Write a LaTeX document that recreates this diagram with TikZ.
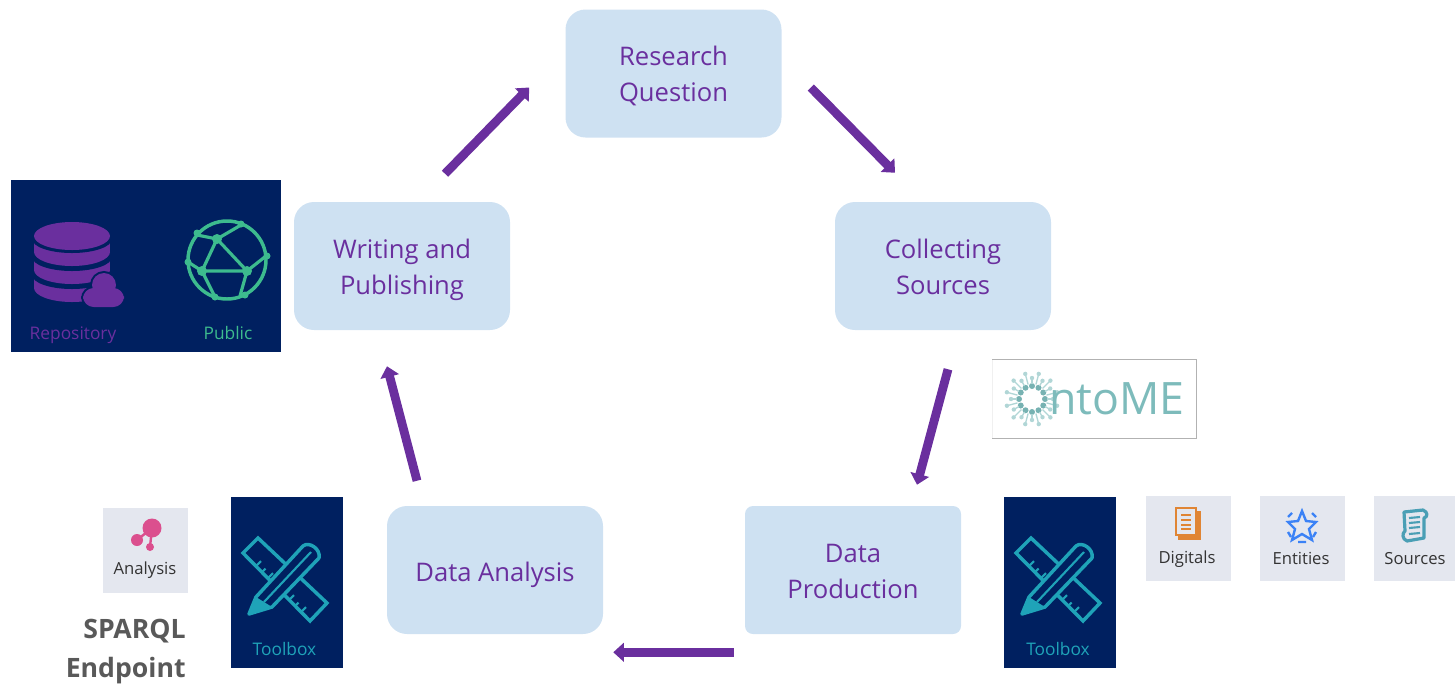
\documentclass[tikz,border=0pt]{standalone}
\usepackage{fontspec}
\setmainfont{Open Sans}
\usepackage{xcolor}
\usetikzlibrary{arrows.meta}

\definecolor{boxblue}{HTML}{CEE1F2}
\definecolor{flowpurple}{HTML}{6A2F9E}
\definecolor{panelnavy}{HTML}{002060}
\definecolor{toolteal}{HTML}{1FA3B8}
\definecolor{pubgreen}{HTML}{3DBB8E}
\definecolor{tilegrey}{HTML}{E4E7EF}
\definecolor{ontoteal}{HTML}{7DBBBB}
\definecolor{analysispink}{HTML}{DB4F8E}
\definecolor{digitalorange}{HTML}{E08534}
\definecolor{entityblue}{HTML}{3B82F6}
\definecolor{scrollteal}{HTML}{4A9FB5}

\newcommand{\twolines}[2]{\rule{0pt}{21.15pt}#1\\#2\rule[-6pt]{0pt}{6pt}}

\tikzset{
	stagebox/.style={shape=rectangle,fill=boxblue,rounded corners=15pt,minimum width=162pt,minimum height=96pt,
		align=center,text=flowpurple,font=\fontsize{19.2}{27}\selectfont,inner sep=0pt},
	flow/.style={draw=flowpurple,line width=6.6pt,-{Triangle[length=8pt,width=14pt]}},
	panel/.style={shape=rectangle,fill=panelnavy,inner sep=0pt},
	tile/.style={shape=rectangle,fill=tilegrey,minimum size=63.75pt,inner sep=0pt},
	tiletext/.style={text=black!80,font=\fontsize{12.5}{15}\selectfont,inner sep=0pt},
	paneltext/.style={font=\fontsize{13}{15}\selectfont,inner sep=0pt},
	toolbox/.pic={
		\draw[toolteal,line width=2.6pt,line join=miter] (27,41) -- (12,56) -- (79,124) -- (96,106) -- cycle;
		\foreach \tx/\ty/\tl in {25/69/7, 31/75/5, 37/81/7, 58/103/7, 64/109/5, 70/115/7}
			\draw[toolteal,line width=1.6pt] (\tx,\ty) -- ++(0.7*\tl,-0.7*\tl);
		\draw[toolteal,line width=2.6pt,fill=panelnavy,line join=round]
			(18,117) -- (25,100) -- (72,49) .. controls (78,44) and (90,52) .. (88,61) -- (41,110) -- cycle;
		\draw[toolteal,line width=1.6pt] (33,105) -- (80,55);
		\fill[toolteal] (18,117) -- (25,100) -- (41,110) -- cycle;
	}
}

\begin{document}
\begin{tikzpicture}[x=0.75pt,y=-0.75pt]
	\useasboundingbox (0,0) rectangle (1455,683);

	% cycle
	\node[stagebox] (question)   at (673.5,73.5) {\twolines{Research}{Question}};
	\node[stagebox] (sources)    at (943,266)    {\twolines{Collecting}{Sources}};
	\node[stagebox] (writing)    at (402,266)    {\twolines{Writing and}{Publishing}};
	\node[stagebox] (analysis)   at (495,570)    {\rule{0pt}{22pt}Data Analysis};
	\node[stagebox,rounded corners=6pt] (production) at (853,570) {\twolines{Data}{Production}};

	\draw[flow] ([shift={(29,14)}]question.east)      -- ([shift={(-48,-29)}]sources.north);
	\draw[flow] ([shift={(5,39)}]sources.south)       -- ([shift={(64,-21)}]production.north);
	\draw[flow] ([shift={(-11,18)}]production.south west) -- ([shift={(10,18)}]analysis.south east);
	\draw[flow] ([shift={(-78,-25)}]analysis.north)   -- ([shift={(-15,36)}]writing.south);
	\draw[flow] ([shift={(43,-28)}]writing.north)     -- ([shift={(-36,14)}]question.west);

	% repository panel
	\node[panel,minimum width=202.5pt,minimum height=129pt] (repo) at (146,266) {};
	\foreach \by in {288,270,252} {
		\fill[flowpurple] (34,\by-13) rectangle (110,\by);
		\fill[flowpurple] (72,\by) ellipse[x radius=38,y radius=14];
		\fill[panelnavy] (72,\by-13) ellipse[x radius=40,y radius=14];
	}
	\fill[flowpurple] (72,236) ellipse[x radius=38,y radius=14];
	\draw[panelnavy,fill=panelnavy,line width=3pt,rounded corners=8pt] (83,288) rectangle (124,307);
	\draw[panelnavy,fill=panelnavy,line width=3pt] (104,285) circle (12);
	\fill[flowpurple,rounded corners=8pt] (83,288) rectangle (124,307);
	\fill[flowpurple] (104,285) circle (12);
	\node[paneltext,text=flowpurple] (repolabel) at (73,335) {Repository};

	\draw[pubgreen,line width=2.6pt] (227,260) circle (39);
	\draw[pubgreen,line width=2.4pt,line join=round]
		(217,239) -- (202,271) -- (247,271) -- cycle
		(217,239) -- (241,225) (217,239) -- (197,235)
		(202,271) -- (188,262) (202,271) -- (215,297)
		(247,271) -- (266,256) (247,271) -- (240,296);
	\foreach \gx/\gy in {217/239,202/271,247/271}
		\fill[pubgreen] (\gx,\gy) circle (5);
	\foreach \gx/\gy in {241/224,197/233,188/262,267/256,215/297,245/295}
		\fill[pubgreen] (\gx,\gy) circle (3.5);
	\node[paneltext,text=pubgreen] (publabel) at (228,333) {Public};

	% ontome logo
	\draw[black!6] (992,359) -- (992,438);
	\draw[black!30] (992,359) -- (1196,359) -- (1196,438) -- (992,438);
	\foreach \ang in {0,30,...,330} {
		\fill[ontoteal!95!black] (1032,399) ++(\ang:13) circle (3);
		\draw[ontoteal!60,line width=1pt] (1032,399) ++(\ang+15:15) -- ++(\ang+15:10);
		\draw[ontoteal!60,line width=1pt] (1032,399) ++(\ang:15) -- ++(\ang:5);
		\fill[ontoteal!60] (1032,399) ++(\ang+15:26) circle (2.2);
		\fill[ontoteal!60] (1032,399) ++(\ang:21) circle (2.2);
	}
	\node[inner sep=0pt,text=ontoteal,font=\fontsize{33.5}{33}\selectfont,anchor=base west] (ontome) at (1049,414) {ntoME};

	% right toolbox and tiles
	\node[panel,minimum width=84pt,minimum height=128.25pt] (toolright) at (1060,582.5) {};
	\pic at (1004,497) {toolbox};
	\node[paneltext,text=toolteal] (toolrightlabel) at (1058,649) {Toolbox};

	\node[tile] (digitals) at (1188.5,538.5) {};
	\fill[digitalorange] (1178,511) rectangle (1201,540);
	\draw[digitalorange,line width=2pt,fill=tilegrey] (1176,508) rectangle (1196,535);
	\foreach \ly in {515,520,525,529}
		\draw[digitalorange,line width=1.4pt] (1181,\ly) -- (1191,\ly);
	\node[tiletext] (digitalslabel) at (1187,559) {Digitals};

	\node[tile] (entities) at (1302.5,538.5) {};
	\draw[entityblue,line width=1.8pt,line join=miter]
		(1302,511) -- (1306,521) -- (1316,522) -- (1309,529) -- (1312,540) -- (1302,534) -- (1292,540) -- (1295,529) -- (1288,522) -- (1298,521) -- cycle;
	\draw[entityblue,line width=1.8pt]
		(1288,517) -- (1292,513) (1316,517) -- (1312,513) (1288,532) -- (1291,537) (1316,532) -- (1313,537) (1298,542) -- (1306,542);
	\node[tiletext] (entitieslabel) at (1301,558) {Entities};

	\node[tile,minimum size=0pt,minimum width=60.75pt,minimum height=63.75pt] (scrolls) at (1414.5,538.5) {};
	\draw[scrollteal,line width=2.4pt,line join=round]
		(1404,512) -- (1423,510) .. controls (1428,512) and (1428,517) .. (1424,518) -- (1424,538) -- (1407,541) .. controls (1402,539) and (1402,533) .. (1405,531) -- cycle;
	\foreach \ly in {518,523,528,534}
		\draw[scrollteal,line width=1.6pt] (1409,\ly) -- (1420,\ly-1);
	\node[tiletext] (scrollslabel) at (1415,559) {Sources};

	% left toolbox and analysis
	\node[panel,minimum width=84pt,minimum height=128.25pt] (toolleft) at (287,582.5) {};
	\pic at (231,497) {toolbox};
	\node[paneltext,text=toolteal] (toolleftlabel) at (284.5,649) {Toolbox};

	\node[tile] (analysistile) at (145.5,550.5) {};
	\draw[analysispink,line width=1.8pt] (137,540) -- (152,528) -- (150,547);
	\fill[analysispink] (152,528) circle (9.5);
	\fill[analysispink] (137,540) circle (6);
	\fill[analysispink] (150,547) circle (4);
	\node[tiletext] (analysislabel) at (145,570) {Analysis};

	\node[inner sep=0pt,anchor=north east,align=right,text=black!65,font=\bfseries\fontsize{20}{29}\selectfont] (sparql) at (186,619) {SPARQL\\Endpoint};
\end{tikzpicture}
\end{document}
